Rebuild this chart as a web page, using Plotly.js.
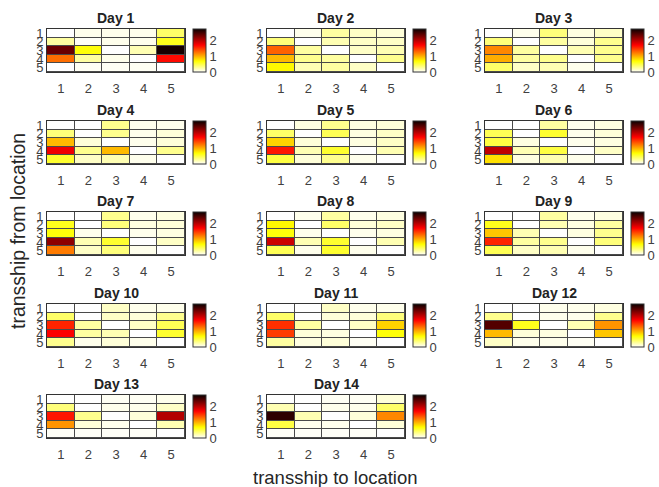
<!DOCTYPE html>
<html>
<head>
<meta charset="utf-8">
<script src="https://cdn.plot.ly/plotly-3.0.1.min.js"></script>
<style>html,body{margin:0;padding:0;background:#fff;}#chart{width:659px;height:487px;}</style>
</head>
<body>
<div id="chart"></div>
<script>
// transship to location (columns) and from location (rows)
const toLocations = [1, 2, 3, 4, 5];
const fromLocations = [1, 2, 3, 4, 5];
const dayTitles = ["Day 1","Day 2","Day 3","Day 4","Day 5","Day 6","Day 7","Day 8","Day 9","Day 10","Day 11","Day 12","Day 13","Day 14"];
const colorbarTicks = [0, 1, 2];

const day1 = [
  [0.00, 0.05, 0.05, 0.05, 0.40],
  [0.25, 0.02, 0.05, 0.05, 0.60],
  [2.30, 0.65, 0.00, 0.20, 2.65],
  [1.25, 0.25, 0.05, 0.00, 1.65],
  [0.00, 0.03, 0.03, 0.03, 0.00]];
const day2 = [
  [0.00, 0.05, 0.25, 0.15, 0.10],
  [0.35, 0.00, 0.20, 0.15, 0.15],
  [1.30, 0.25, 0.00, 0.15, 0.20],
  [0.95, 0.30, 0.25, 0.00, 0.30],
  [0.70, 0.20, 0.25, 0.15, 0.00]];
const day3 = [
  [0.00, 0.05, 0.35, 0.08, 0.15],
  [0.35, 0.00, 0.25, 0.10, 0.30],
  [1.15, 0.25, 0.00, 0.20, 0.30],
  [1.00, 0.25, 0.30, 0.00, 0.30],
  [0.40, 0.15, 0.20, 0.05, 0.00]];
const day4 = [
  [0.00, 0.00, 0.30, 0.05, 0.05],
  [0.35, 0.00, 0.30, 0.05, 0.10],
  [0.95, 0.10, 0.00, 0.05, 0.10],
  [1.75, 0.30, 0.95, 0.00, 0.30],
  [0.55, 0.15, 0.20, 0.05, 0.00]];
const day5 = [
  [0.00, 0.08, 0.30, 0.08, 0.10],
  [0.40, 0.00, 0.45, 0.08, 0.15],
  [0.85, 0.10, 0.00, 0.08, 0.15],
  [1.60, 0.20, 0.55, 0.00, 0.20],
  [0.50, 0.10, 0.30, 0.05, 0.00]];
const day6 = [
  [0.00, 0.00, 0.25, 0.05, 0.08],
  [0.45, 0.00, 0.55, 0.05, 0.10],
  [0.50, 0.08, 0.00, 0.05, 0.08],
  [1.95, 0.20, 0.50, 0.00, 0.15],
  [0.80, 0.08, 0.20, 0.05, 0.00]];
const day7 = [
  [0.00, 0.00, 0.30, 0.05, 0.08],
  [0.60, 0.00, 0.35, 0.08, 0.10],
  [0.65, 0.05, 0.00, 0.05, 0.08],
  [2.15, 0.20, 0.55, 0.00, 0.15],
  [1.20, 0.15, 0.35, 0.05, 0.00]];
const day8 = [
  [0.00, 0.05, 0.25, 0.05, 0.08],
  [0.70, 0.00, 0.40, 0.10, 0.15],
  [0.65, 0.05, 0.00, 0.05, 0.08],
  [1.90, 0.20, 0.55, 0.00, 0.20],
  [0.45, 0.05, 0.55, 0.05, 0.00]];
const day9 = [
  [0.00, 0.00, 0.25, 0.05, 0.08],
  [0.60, 0.00, 0.20, 0.08, 0.25],
  [0.90, 0.20, 0.00, 0.08, 0.30],
  [1.55, 0.25, 0.30, 0.00, 0.35],
  [0.45, 0.15, 0.20, 0.05, 0.00]];
const day10 = [
  [0.00, 0.00, 0.15, 0.05, 0.05],
  [0.40, 0.00, 0.15, 0.10, 0.30],
  [1.55, 0.25, 0.00, 0.15, 0.45],
  [1.70, 0.25, 0.20, 0.00, 0.55],
  [0.30, 0.05, 0.10, 0.05, 0.00]];
const day11 = [
  [0.00, 0.00, 0.15, 0.05, 0.05],
  [0.40, 0.00, 0.10, 0.10, 0.35],
  [1.50, 0.25, 0.00, 0.15, 0.85],
  [1.45, 0.10, 0.08, 0.00, 0.65],
  [0.25, 0.08, 0.10, 0.03, 0.00]];
const day12 = [
  [0.00, 0.00, 0.05, 0.05, 0.08],
  [0.30, 0.00, 0.05, 0.05, 0.30],
  [2.40, 0.60, 0.00, 0.20, 1.10],
  [0.95, 0.10, 0.08, 0.00, 0.90],
  [0.15, 0.05, 0.05, 0.03, 0.00]];
const day13 = [
  [0.00, 0.00, 0.03, 0.03, 0.05],
  [0.35, 0.00, 0.05, 0.05, 0.15],
  [1.60, 0.30, 0.00, 0.10, 2.00],
  [1.10, 0.10, 0.05, 0.00, 0.20],
  [0.02, 0.02, 0.02, 0.02, 0.00]];
const day14 = [
  [0.00, 0.00, 0.03, 0.03, 0.10],
  [0.20, 0.00, 0.05, 0.05, 0.40],
  [2.55, 0.20, 0.00, 0.10, 1.15],
  [0.50, 0.05, 0.05, 0.00, 0.10],
  [0.02, 0.02, 0.02, 0.02, 0.00]];
const days = [day1, day2, day3, day4, day5, day6, day7, day8, day9, day10, day11, day12, day13, day14];

// reversed MATLAB "hot" colormap
const hotReversed = [[0, 'rgb(255,255,255)'], [0.25, 'rgb(255,255,0)'], [0.625, 'rgb(255,0,0)'], [1, 'rgb(10,0,0)']];

const W = 659, H = 487;
const colLeft = [47, 267, 485];
const rowTop = [29, 121, 212, 304, 395];
const plotW = 138, plotH = 43;
const FONT = 'Liberation Sans, Arial, Helvetica, sans-serif';

const data = [];
const layout = {
  width: W, height: H,
  margin: {l: 0, r: 0, t: 0, b: 0},
  paper_bgcolor: '#ffffff',
  plot_bgcolor: '#4a4a4a',
  showlegend: false,
  font: {family: FONT, color: '#404040'},
  annotations: []
};

days.forEach((z, i) => {
  const r = Math.floor(i / 3), c = i % 3;
  const n = i + 1;
  const xa = 'x' + (n === 1 ? '' : n), ya = 'y' + (n === 1 ? '' : n);
  const xk = 'xaxis' + (n === 1 ? '' : n), yk = 'yaxis' + (n === 1 ? '' : n);
  const x0 = colLeft[c], y0 = rowTop[r];
  data.push({
    type: 'heatmap', z: z, x: toLocations, y: fromLocations,
    xaxis: xa, yaxis: ya,
    zmin: 0, zmax: 2.7, colorscale: hotReversed,
    xgap: 1, ygap: 1, hoverinfo: 'skip',
    colorbar: {
      x: (x0 + plotW + 8) / W, xanchor: 'left', xpad: 0, ypad: 0,
      y: 1 - (y0 + plotH / 2) / H, yanchor: 'middle',
      len: plotH, lenmode: 'pixels', thickness: 13,
      outlinewidth: 1, outlinecolor: '#333333',
      tickvals: colorbarTicks, ticks: '',
      tickfont: {size: 13, color: '#404040', family: FONT}
    }
  });
  layout[xk] = {
    domain: [x0 / W, (x0 + plotW) / W], anchor: ya,
    range: [0.5, 5.5], tickvals: toLocations, ticks: '',
    ticklabelstandoff: 4,
    showgrid: false, zeroline: false,
    showline: true, mirror: true, linecolor: '#333333', linewidth: 1,
    tickfont: {size: 13, color: '#404040', family: FONT}, fixedrange: true
  };
  layout[yk] = {
    domain: [1 - (y0 + plotH) / H, 1 - y0 / H], anchor: xa,
    range: [5.5, 0.5], tickvals: fromLocations, ticks: '',
    showgrid: false, zeroline: false,
    showline: true, mirror: true, linecolor: '#333333', linewidth: 1,
    tickfont: {size: 13, color: '#404040', family: FONT}, fixedrange: true
  };
  layout.annotations.push({
    text: '<b>' + dayTitles[i] + '</b>', xref: 'paper', yref: 'paper',
    x: (x0 + plotW / 2) / W, y: 1 - (y0 - 1) / H,
    xanchor: 'center', yanchor: 'bottom', showarrow: false,
    font: {size: 14, color: '#222222', family: FONT}
  });
});

layout.annotations.push({
  text: 'transship from location', xref: 'paper', yref: 'paper',
  x: 18 / W, y: 1 - 231 / H, xanchor: 'center', yanchor: 'middle',
  textangle: -90, showarrow: false,
  font: {size: 19.5, color: '#262626', family: FONT}
});
layout.annotations.push({
  text: 'transship to location', xref: 'paper', yref: 'paper',
  x: 335 / W, y: 1 - 489 / H, xanchor: 'center', yanchor: 'bottom',
  showarrow: false, borderpad: 0,
  font: {size: 18.5, color: '#262626', family: FONT}
});

Plotly.newPlot('chart', data, layout, {staticPlot: true, displayModeBar: false});
</script>
</body>
</html>
